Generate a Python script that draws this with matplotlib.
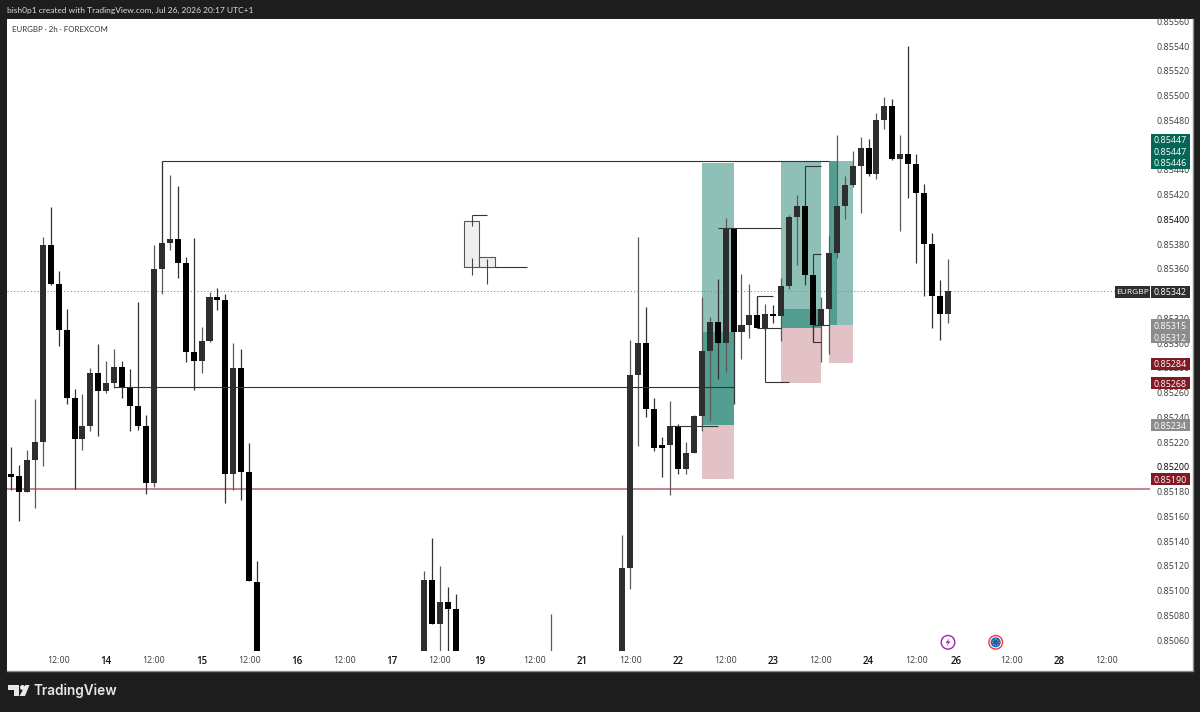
import matplotlib
matplotlib.use('Agg')
import matplotlib.pyplot as plt
from matplotlib.patches import Rectangle, Polygon, Circle

plt.rcParams['font.family'] = ['Open Sans', 'DejaVu Sans']

# 2h candles, bar number on the chart and prices
bars = [0, 1, 2, 3, 4, 5, 6, 7, 8, 9, 10, 11, 12, 13, 14, 15, 16, 17, 18, 19,
        20, 21, 22, 23, 24, 25, 26, 27, 28, 29, 30, 31,
        52, 53, 54, 55, 56, 68, 77, 78, 79,
        80, 81, 82, 83, 84, 85, 86, 87, 88, 89, 90, 91, 92, 93, 94, 95, 96, 97, 98, 99,
        100, 101, 102, 103, 104, 105, 106, 107, 108, 109, 110, 111, 112, 113, 114, 115, 116, 117, 118]
opens = [.85194, .85193, .85180, .85206, .85220, .85379, .85348, .85311, .85256, .85223,
         .85233, .85276, .85261, .85268, .85281, .85265, .85249, .85233, .85187, .85360,
         .85381, .85384, .85365, .85293, .85286, .85302, .85337, .85335, .85194, .85280, .85196, .85107,
         .85030, .85109, .85073, .85091, .85085, .85020, .85040, .85118, .85274,
         .85300, .85247, .85218, .85218, .85233, .85198, .85211, .85241, .85294, .85317, .85300, .85393,
         .85309, .85315, .85323, .85312, .85324, .85322, .85346, .85402,
         .85411, .85355, .85315, .85328, .85373, .85411, .85428, .85443, .85458, .85437, .85480, .85492,
         .85449, .85453, .85445, .85421, .85380, .85338, .85324]
highs = [.85216, .85202, .85214, .85255, .85386, .85410, .85358, .85328, .85263, .85259,
         .85280, .85299, .85286, .85295, .85286, .85279, .85333, .85242, .85379, .85447,
         .85436, .85427, .85370, .85385, .85313, .85341, .85345, .85340, .85300, .85295, .85219, .85124,
         .85116, .85143, .85120, .85103, .85097, .85081, .85145, .85303, .85386,
         .85329, .85256, .85224, .85253, .85235, .85220, .85242, .85337, .85321, .85352, .85401, .85393,
         .85356, .85348, .85338, .85332, .85331, .85353, .85404, .85420,
         .85411, .85355, .85337, .85387, .85468, .85435, .85455, .85467, .85465, .85486, .85499, .85497,
         .85468, .85540, .85453, .85429, .85389, .85351, .85368]
lows = [.85181, .85156, .85180, .85167, .85201, .85347, .85298, .85251, .85182, .85214,
        .85229, .85225, .85260, .85264, .85256, .85229, .85230, .85178, .85184, .85340,
        .85375, .85353, .85285, .85262, .85276, .85301, .85327, .85171, .85181, .85173, .85108, .85010,
        .85020, .85073, .85040, .85040, .85020, .85010, .85030, .85101, .85217,
        .85240, .85213, .85192, .85177, .85194, .85194, .85211, .85229, .85237, .85271, .85277, .85251,
        .85287, .85304, .85312, .85311, .85316, .85302, .85344, .85363,
        .85347, .85301, .85285, .85291, .85369, .85400, .85426, .85405, .85435, .85433, .85473, .85448,
        .85391, .85417, .85365, .85338, .85312, .85303, .85316]
closes = [.85192, .85180, .85206, .85220, .85379, .85348, .85311, .85256, .85223, .85233,
          .85276, .85261, .85268, .85281, .85265, .85249, .85233, .85187, .85360, .85381,
          .85384, .85365, .85293, .85286, .85302, .85337, .85335, .85194, .85280, .85196, .85108, .85030,
          .85109, .85073, .85091, .85085, .85030, .85040, .85118, .85274, .85300,
          .85247, .85215, .85215, .85233, .85198, .85211, .85241, .85294, .85317, .85300, .85393, .85309,
          .85315, .85323, .85312, .85324, .85322, .85346, .85402, .85411,
          .85355, .85315, .85328, .85373, .85411, .85428, .85443, .85458, .85437, .85480, .85492, .85449,
          .85453, .85445, .85421, .85380, .85338, .85324, .85342]

# axis labels
x_ticks = [6, 12, 18, 24, 30, 36, 42, 48, 54, 59, 66, 72, 78, 84, 90, 96, 102, 108, 114, 119, 126, 132, 138]
x_labels = ['12:00', '14', '12:00', '15', '12:00', '16', '12:00', '17', '12:00', '19', '12:00', '21',
            '12:00', '22', '12:00', '23', '12:00', '24', '12:00', '26', '12:00', '28', '12:00']
# 0.85340 and 0.85460 sit fully behind the price tags in the reference so they are left out
y_ticks = [.85060, .85080, .85100, .85120, .85140, .85160, .85180, .85200, .85220, .85240, .85260,
           .85280, .85300, .85320, .85360, .85380, .85400, .85420, .85440, .85480,
           .85500, .85520, .85540, .85560]

# long/short position tools: first bar, last bar, target, entry, stop, second box bottom/top
pos_left = [87, 97, 103]
pos_right = [91, 102, 106]
pos_target = [.85446, .85447, .85447]
pos_entry = [.85234, .85312, .85315]
pos_stop = [.85190, .85268, .85284]
inner_left = [87, 97, 103]
inner_right = [91, 102, 104]
inner_bottom = [.85234, .85312, .85315]
inner_top = [.85309, .85328, .85447]

# drawn lines, (x0, x1, y0, y1) in bars and price
trend_lines = [(19, 103, .85447, .85447), (13, 91, .85265, .85265), (83, 89, .85233, .85233),
               (89, 97, .85393, .85393), (94, 97, .85312, .85312), (95, 95, .85312, .85269),
               (95, 98, .85269, .85269), (94, 96, .85338, .85338), (94, 94, .85338, .85323),
               (100, 100, .85411, .85443), (100, 102, .85443, .85443), (101, 101, .85355, .85372),
               (101, 102, .85372, .85372), (101, 101, .85315, .85301), (101, 102, .85301, .85301),
               (101, 103, .85315, .85315), (19, 19, .85447, .85381),
               (58, 60, .85404, .85404), (61, 65, .85362, .85362)]

# pale boxes in the middle of the chart and their wicks
ghost_left = [57, 59]
ghost_right = [59, 61]
ghost_bottom = [.85362, .85362]
ghost_top = [.85399, .85370]
ghost_wick_x = [58, 58, 60]
ghost_wick_lo = [.85395, .85355, .85348]
ghost_wick_hi = [.85404, .85369, .85368]

red_line = .85182
last_price = .85342

# price tags on the right, offset in pixels because they get stacked
tag_prices = [.85447, .85447, .85446, .85315, .85312, .85284, .85268, .85234, .85190, .85342]
tag_shift = [-21.5, -9.7, 0, 0.5, 9, 0.5, 0.3, 0.5, 0, 0.5]
tag_colors = ['#056656', '#056656', '#056656', '#8c8c8c', '#8c8c8c', '#801922', '#801922', '#8c8c8c',
              '#801922', '#2e2e2e']

DARK = '#1e1e1e'
TEAL = '#0f7a68'

fig = plt.figure(figsize=(12, 7.12), dpi=100, facecolor=DARK)
fig.add_artist(Rectangle((7 / 1200, 41.5 / 712), 1186 / 1200, 651.5 / 712, transform=fig.transFigure,
                         facecolor='white', linewidth=0, zorder=-1))

ax = fig.add_axes([7 / 1200, 61 / 712, 1143 / 1200, 632 / 712])
ax.set_xlim(-0.504, 143.45)
ax.set_ylim(0.850513, 0.85562)
ax.patch.set_alpha(0)
for s in ax.spines.values():
    s.set_visible(False)

# position boxes
for i in range(len(pos_left)):
    w = pos_right[i] - pos_left[i]
    ax.add_patch(Rectangle((pos_left[i], pos_entry[i]), w, pos_target[i] - pos_entry[i],
                           facecolor=TEAL, alpha=0.47, linewidth=0, zorder=1))
    ax.add_patch(Rectangle((pos_left[i], pos_stop[i]), w, pos_entry[i] - pos_stop[i],
                           facecolor='#e2c2c6', linewidth=0, zorder=1))
    ax.add_patch(Rectangle((inner_left[i], inner_bottom[i]), inner_right[i] - inner_left[i],
                           inner_top[i] - inner_bottom[i], facecolor=TEAL, alpha=0.47, linewidth=0, zorder=1))
    if i < 2:
        ax.plot([inner_left[i], inner_right[i]], [inner_bottom[i], inner_top[i]], color='#888888',
                linewidth=0.8, linestyle=(0, (4, 3)), alpha=0.6, zorder=1.5)

ax.axhline(last_price, color='#8a8a8a', linewidth=0.8, linestyle=(0, (1, 2)), zorder=1.2)
ax.axhline(red_line, color='#b4656b', linewidth=1.1, zorder=1.2)

# pale boxes
for i in range(len(ghost_left)):
    ax.add_patch(Rectangle((ghost_left[i], ghost_bottom[i]), ghost_right[i] - ghost_left[i],
                           ghost_top[i] - ghost_bottom[i], facecolor='#efefef', edgecolor='#555555',
                           linewidth=0.8, zorder=2))
ax.vlines(ghost_wick_x, ghost_wick_lo, ghost_wick_hi, color='#444444', linewidth=0.8, zorder=2.5)

# candles
for i in range(len(bars)):
    up = closes[i] > opens[i]
    c = '#2e2e2e' if up else '#000000'
    ax.vlines(bars[i], lows[i], highs[i], color='#5a5a5a' if up else '#333333', linewidth=0.9, zorder=3)
    ax.bar(bars[i], abs(closes[i] - opens[i]), bottom=min(opens[i], closes[i]), width=0.76,
           color=c, linewidth=0, zorder=4)

for x0, x1, y0, y1 in trend_lines:
    ax.plot([x0, x1], [y0, y1], color='#333333', linewidth=0.8, zorder=5, solid_capstyle='butt')

ax.yaxis.tick_right()
ax.set_yticks(y_ticks)
ax.set_yticklabels(['%.5f' % v for v in y_ticks])
ax.set_xticks(x_ticks)
ax.set_xticklabels(x_labels)
ax.tick_params(axis='both', length=0, labelsize=6.4, labelcolor='#3c3c3c')
ax.tick_params(axis='y', pad=5)
ax.tick_params(axis='x', pad=3.5)
for t in ax.get_xticklabels():
    if t.get_text() != '12:00':
        t.set_fontweight('semibold')
        t.set_fontsize(7)
        t.set_color('#111111')
for t in ax.get_yticklabels():
    if t.get_text() in ('0.85200', '0.85400'):
        t.set_color('#000000')

# page overlay in pixels for the tags, header, logo and icons
page = fig.add_axes([0, 0, 1, 1], zorder=5)
page.set_xlim(0, 1200)
page.set_ylim(712, 0)
page.axis('off')

# grey edge on the right and the bottom of the pane
page.plot([1192.5, 1192.5, 7], [19, 670.5, 670.5], color='#8a8a8a', linewidth=1)

fig.canvas.draw()
for i in range(len(tag_prices)):
    y_disp = ax.transData.transform((0, tag_prices[i]))
    y = page.transData.inverted().transform(y_disp)[1] + tag_shift[i]
    page.add_patch(Rectangle((1151, y - 6), 38.5, 12, facecolor=tag_colors[i], linewidth=0))
    page.text(1170.2, y, '%.5f' % tag_prices[i], color='white', fontsize=6.4, ha='center', va='center_baseline')
y_last = page.transData.inverted().transform(ax.transData.transform((0, last_price)))[1] + 0.5
page.add_patch(Rectangle((1115, y_last - 6), 35, 12, facecolor='#2e2e2e', linewidth=0))
page.text(1132.5, y_last, 'EURGBP', color='white', fontsize=6, ha='center', va='center_baseline')

page.text(7, 10, 'bish0p1 created with TradingView.com, Jul 26, 2026 20:17 UTC+1', color='#dddddd',
          fontsize=6.0, family=['Lato', 'DejaVu Sans'], va='center')
page.text(12.5, 29, 'EURGBP · 2h · FOREXCOM', color='#333333', fontsize=5.7,
          family=['Lato', 'DejaVu Sans'], va='center')

# logo
page.add_patch(Polygon([(8, 685), (19, 685), (19, 696), (13.5, 696), (13.5, 690), (8, 690)],
                       facecolor='#e8e8e8', linewidth=0))
page.add_patch(Circle((22.5, 687.5), 2.5, facecolor='#e8e8e8', linewidth=0))
page.add_patch(Polygon([(25.5, 685), (29.5, 685), (25, 696), (19.5, 696)], facecolor='#e8e8e8', linewidth=0))
page.text(34, 690.5, 'TradingView', color='#e8e8e8', fontsize=9.8, fontweight='semibold',
          family=['Inter', 'DejaVu Sans'], va='center')

# event icons
page.add_patch(Circle((948, 642.3), 6.8, facecolor='white', edgecolor='#9c27b0', linewidth=1))
page.add_patch(Polygon([(949.5, 638), (945.5, 643), (948, 643), (946.5, 646.5), (950.5, 641.5), (948, 641.5)],
                       facecolor='#9c27b0', linewidth=0))
page.add_patch(Circle((995.7, 642.3), 6.8, facecolor='white', edgecolor='#f23645', linewidth=1))
page.add_patch(Circle((995.7, 642.3), 5, facecolor='#1565c0', linewidth=0))
page.add_patch(Circle((995.7, 642.3), 3.2, facecolor='none', edgecolor='#d8c23a', linewidth=0.7,
                      linestyle=(0, (1, 1.5))))

fig.savefig('out.png', dpi=100, facecolor=DARK)
